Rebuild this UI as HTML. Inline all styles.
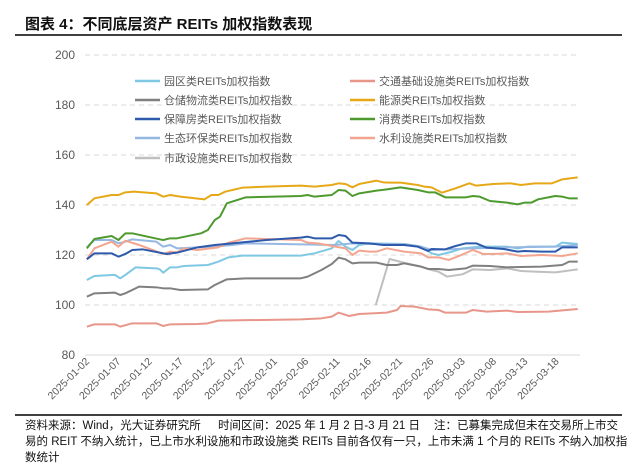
<!DOCTYPE html>
<html><head><meta charset="utf-8"><style>
body{margin:0;background:#fff;width:640px;height:471px;overflow:hidden;font-family:"Liberation Sans","Noto Sans CJK SC",sans-serif;}
svg{position:absolute;left:0;top:0}
</style></head><body>
<svg width="640" height="471" xmlns="http://www.w3.org/2000/svg" font-family="Liberation Sans, Noto Sans CJK SC, sans-serif">
<text x="25" y="29" font-size="15" font-weight="bold" fill="#111">图表 4：不同底层资产 REITs 加权指数表现</text>
<line x1="15" y1="35" x2="622" y2="35" stroke="#000" stroke-width="1.5"/>
<g stroke="#d9d9d9" stroke-width="1" stroke-dasharray="5,4">
<line x1="85" y1="55" x2="580" y2="55"/><line x1="85" y1="105" x2="580" y2="105"/>
<line x1="85" y1="155" x2="580" y2="155"/><line x1="85" y1="205" x2="580" y2="205"/>
<line x1="85" y1="255" x2="580" y2="255"/><line x1="85" y1="305" x2="580" y2="305"/>
</g>
<line x1="85" y1="355" x2="580" y2="355" stroke="#d9d9d9"/>
<g font-size="12" fill="#595959" text-anchor="end">
<text x="75" y="59">200</text><text x="75" y="109">180</text><text x="75" y="159">160</text>
<text x="75" y="209">140</text><text x="75" y="259">120</text><text x="75" y="309">100</text><text x="75" y="359">80</text>
</g>
<g font-size="11" fill="#595959">
<line x1="135" y1="81" x2="160" y2="81" stroke="#7ec8e3" stroke-width="2.5"/><text x="164" y="85">园区类REITs加权指数</text>
<line x1="135" y1="100" x2="160" y2="100" stroke="#808080" stroke-width="2.5"/><text x="164" y="104">仓储物流类REITs加权指数</text>
<line x1="135" y1="119" x2="160" y2="119" stroke="#2e5aac" stroke-width="2.5"/><text x="164" y="123">保障房类REITs加权指数</text>
<line x1="135" y1="138" x2="160" y2="138" stroke="#95b8e3" stroke-width="2.5"/><text x="164" y="142">生态环保类REITs加权指数</text>
<line x1="135" y1="158" x2="160" y2="158" stroke="#bfbfbf" stroke-width="2.5"/><text x="164" y="162">市政设施类REITs加权指数</text>
<line x1="350" y1="81" x2="375" y2="81" stroke="#e8968a" stroke-width="2.5"/><text x="379" y="85">交通基础设施类REITs加权指数</text>
<line x1="350" y1="100" x2="375" y2="100" stroke="#e6a817" stroke-width="2.5"/><text x="379" y="104">能源类REITs加权指数</text>
<line x1="350" y1="119" x2="375" y2="119" stroke="#4e9a2f" stroke-width="2.5"/><text x="379" y="123">消费类REITs加权指数</text>
<line x1="350" y1="138" x2="375" y2="138" stroke="#f4a58f" stroke-width="2.5"/><text x="379" y="142">水利设施类REITs加权指数</text>
</g>
<g transform="translate(60,170) scale(0.344,0.3333)" fill="none" stroke-width="2" stroke-linejoin="round">
<polyline vector-effect="non-scaling-stroke" stroke="#bfbfbf" points="918,405 958,267 1000,278 1050,290 1080,300 1100,305 1125,320 1170,313 1200,298 1250,300 1300,295 1340,303 1380,305 1440,307 1505,298"/>
<polyline vector-effect="non-scaling-stroke" stroke="#808080" points="78,380 100,370 160,368 175,375 190,370 230,350 280,352 300,355 320,355 350,360 430,358 450,345 485,328 540,325 700,325 720,320 760,300 790,282 810,263 830,268 850,280 870,278 920,278 950,285 980,285 1000,280 1050,290 1070,297 1100,297 1130,300 1180,295 1200,287 1250,288 1300,292 1400,290 1460,285 1480,275 1505,275"/>
<polyline vector-effect="non-scaling-stroke" stroke="#e8968a" points="78,470 100,463 160,463 175,470 210,460 280,460 300,468 320,463 400,462 430,460 460,452 700,448 760,445 790,440 810,428 840,438 870,432 950,428 980,420 990,408 1030,410 1070,418 1100,420 1120,428 1180,428 1200,420 1240,425 1300,422 1330,426 1420,425 1505,417"/>
<polyline vector-effect="non-scaling-stroke" stroke="#7ec8e3" points="78,330 100,318 150,315 160,315 175,325 190,315 220,292 280,295 290,298 300,308 320,292 340,292 360,288 430,285 460,275 490,262 530,257 700,257 740,250 790,235 810,213 830,230 850,240 870,225 900,220 1000,222 1050,230 1080,250 1100,255 1140,245 1170,235 1220,230 1300,230 1330,235 1360,230 1440,230 1460,218 1505,222"/>
<polyline vector-effect="non-scaling-stroke" stroke="#95b8e3" points="78,232 100,210 150,210 170,220 190,215 210,208 280,215 300,230 320,225 340,235 400,232 450,230 500,225 540,220 800,225 850,220 900,222 1000,222 1050,230 1080,240 1200,235 1300,232 1440,230 1505,225"/>
<polyline vector-effect="non-scaling-stroke" stroke="#f4a58f" points="78,268 100,235 150,215 170,230 190,212 230,225 300,252 320,245 340,247 360,235 400,240 460,232 490,218 540,205 700,210 720,218 750,220 800,230 830,235 850,255 870,242 900,245 920,245 950,235 1000,245 1050,250 1070,262 1100,262 1130,270 1160,258 1200,240 1230,252 1260,252 1300,250 1340,258 1400,255 1460,258 1505,250"/>
<polyline vector-effect="non-scaling-stroke" stroke="#2e5aac" points="78,268 100,250 150,250 170,260 190,252 210,240 240,238 310,252 340,248 400,232 450,225 500,220 600,210 700,203 720,200 740,205 790,205 810,195 830,198 850,218 900,220 940,225 1000,225 1040,230 1070,243 1080,237 1120,238 1150,228 1180,220 1210,220 1240,233 1290,237 1330,245 1350,243 1400,245 1440,245 1460,232 1505,232"/>
<polyline vector-effect="non-scaling-stroke" stroke="#4e9a2f" points="78,235 100,207 150,198 170,210 190,190 210,190 290,208 300,210 320,205 340,205 410,190 430,180 450,150 465,140 485,100 540,82 700,78 720,75 740,80 790,75 810,60 830,62 850,78 870,70 920,62 950,58 990,52 1040,60 1070,67 1090,67 1120,82 1180,82 1200,78 1220,80 1250,93 1300,98 1330,103 1350,98 1370,98 1390,88 1440,78 1460,80 1480,85 1505,85"/>
<polyline vector-effect="non-scaling-stroke" stroke="#e6a817" points="78,105 100,85 150,75 170,75 190,67 215,65 280,70 300,80 320,75 350,80 420,88 440,75 460,75 480,65 530,53 600,50 700,47 740,50 790,45 810,40 830,42 850,52 870,42 920,32 940,37 960,38 990,38 1040,45 1060,50 1080,52 1110,68 1150,55 1190,40 1210,47 1260,42 1310,40 1340,45 1380,40 1430,40 1460,28 1505,22"/>
</g>
<g font-size="10.5" fill="#595959" text-anchor="end">
<text transform="translate(90,362) rotate(-45)">2025-01-02</text>
<text transform="translate(121.3,362) rotate(-45)">2025-01-07</text>
<text transform="translate(152.6,362) rotate(-45)">2025-01-12</text>
<text transform="translate(183.9,362) rotate(-45)">2025-01-17</text>
<text transform="translate(215.2,362) rotate(-45)">2025-01-22</text>
<text transform="translate(246.5,362) rotate(-45)">2025-01-27</text>
<text transform="translate(277.8,362) rotate(-45)">2025-02-01</text>
<text transform="translate(309.1,362) rotate(-45)">2025-02-06</text>
<text transform="translate(340.4,362) rotate(-45)">2025-02-11</text>
<text transform="translate(371.7,362) rotate(-45)">2025-02-16</text>
<text transform="translate(403,362) rotate(-45)">2025-02-21</text>
<text transform="translate(434.3,362) rotate(-45)">2025-02-26</text>
<text transform="translate(465.6,362) rotate(-45)">2025-03-03</text>
<text transform="translate(496.9,362) rotate(-45)">2025-03-08</text>
<text transform="translate(528.2,362) rotate(-45)">2025-03-13</text>
<text transform="translate(559.5,362) rotate(-45)">2025-03-18</text>
</g>
<line x1="15" y1="415" x2="622" y2="415" stroke="#000" stroke-width="1.5"/>
<g font-size="11.5" fill="#111">
<text x="25" y="429">资料来源：Wind，光大证券研究所</text>
<text x="218" y="429">时间区间：2025 年 1 月 2 日-3 月 21 日</text>
<text x="434" y="429">注：已募集完成但未在交易所上市交</text>
<text x="25" y="445">易的 REIT 不纳入统计，已上市水利设施和市政设施类 REITs 目前各仅有一只，上市未满 1 个月的 REITs 不纳入加权指</text>
<text x="25" y="461">数统计</text>
</g>
</svg>
</body></html>
